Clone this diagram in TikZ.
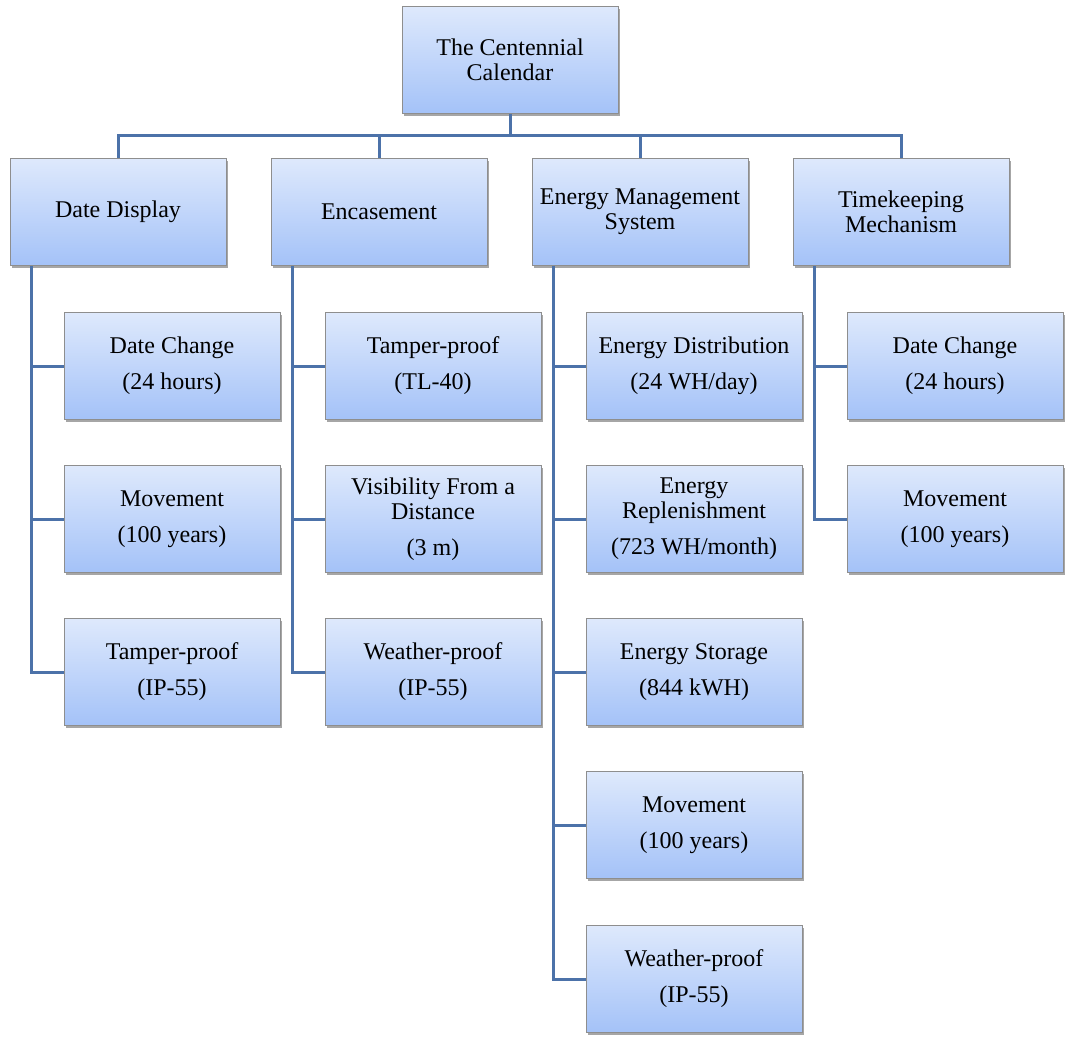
\documentclass[tikz,border=0pt]{standalone}
\usepackage{fontspec}
\setmainfont{Liberation Serif}
\usetikzlibrary{shadows}
\definecolor{boxtop}{HTML}{DEE9FC}
\definecolor{boxbot}{HTML}{A4C2F8}
\definecolor{boxline}{HTML}{8E8E8E}
\definecolor{conncol}{HTML}{4C72A9}
\tikzset{
  box/.style={draw=boxline, line width=0.9pt, top color=boxtop, bottom color=boxbot,
    minimum width=216pt, minimum height=107pt, inner sep=0pt, align=center,
    font=\fontsize{24}{25}\selectfont,
    drop shadow={shadow xshift=2pt, shadow yshift=-2.5pt, fill=black, opacity=0.35}},
  conn/.style={draw=conncol, line width=3pt},
}
\begin{document}
\begin{tikzpicture}[x=1pt,y=-1pt]
\useasboundingbox (0,0) rectangle (1067,1036);
% root
\node[box] (root) at (510,60) {The Centennial\\Calendar};
% level 1
\node[box] (dd) at (118,212) {Date Display};
\node[box] (en) at (379,212) {Encasement};
\node[box] (em) at (640,212) {Energy Management\\System};
\node[box] (tk) at (901,212) {Timekeeping\\Mechanism};
% Date Display children
\node[box] (dd1) at (172,366) {Date Change\\[11pt](24 hours)};
\node[box] (dd2) at (172,519) {Movement\\[11pt](100 years)};
\node[box] (dd3) at (172,672) {Tamper-proof\\[11pt](IP-55)};
% Encasement children
\node[box] (en1) at (433,366) {Tamper-proof\\[11pt](TL-40)};
\node[box] (en2) at (433,519) {Visibility From a\\Distance\\[11pt](3 m)};
\node[box] (en3) at (433,672) {Weather-proof\\[11pt](IP-55)};
% Energy children
\node[box] (em1) at (694,366) {Energy Distribution\\[11pt](24 WH/day)};
\node[box] (em2) at (694,519) {Energy\\Replenishment\\[11pt](723 WH/month)};
\node[box] (em3) at (694,672) {Energy Storage\\[11pt](844 kWH)};
\node[box] (em4) at (694,825) {Movement\\[11pt](100 years)};
\node[box] (em5) at (694,979) {Weather-proof\\[11pt](IP-55)};
% Timekeeping children
\node[box] (tk1) at (955,366) {Date Change\\[11pt](24 hours)};
\node[box] (tk2) at (955,519) {Movement\\[11pt](100 years)};
% connectors
\coordinate (bus) at (510,135);
\draw[conn] (root.south) -- (bus);
\draw[conn] (dd.north) -- (dd.north |- bus) -- (tk.north |- bus) -- (tk.north);
\draw[conn] (en.north) -- (en.north |- bus);
\draw[conn] (em.north) -- (em.north |- bus);
% trunks
\draw[conn] ([xshift=22pt]dd.south west) |- (dd3.west);
\draw[conn] (dd1.west) -- ++(-32,0);
\draw[conn] (dd2.west) -- ++(-32,0);
\draw[conn] ([xshift=22pt]en.south west) |- (en3.west);
\draw[conn] (en1.west) -- ++(-32,0);
\draw[conn] (en2.west) -- ++(-32,0);
\draw[conn] ([xshift=22pt]em.south west) |- (em5.west);
\draw[conn] (em1.west) -- ++(-32,0);
\draw[conn] (em2.west) -- ++(-32,0);
\draw[conn] (em3.west) -- ++(-32,0);
\draw[conn] (em4.west) -- ++(-32,0);
\draw[conn] ([xshift=22pt]tk.south west) |- (tk2.west);
\draw[conn] (tk1.west) -- ++(-32,0);
\end{tikzpicture}
\end{document}
